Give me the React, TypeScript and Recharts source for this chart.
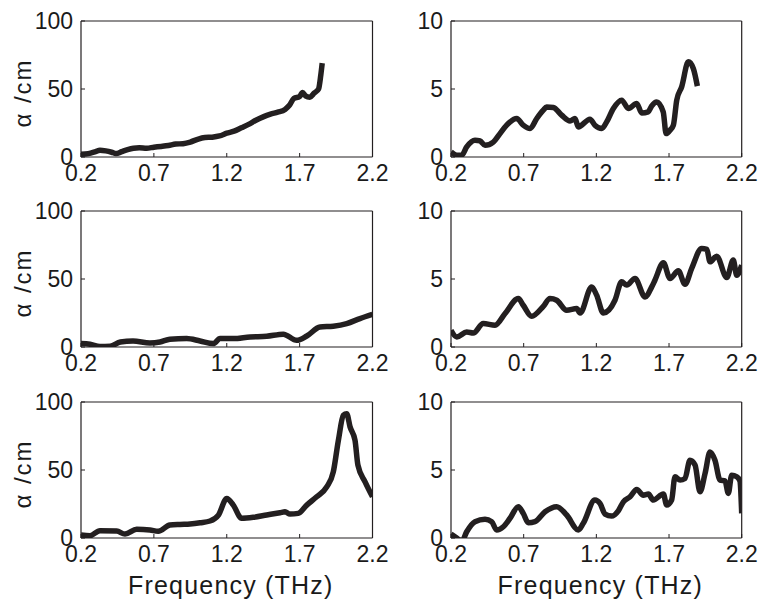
import React from 'react';
import { LineChart, Line, XAxis, YAxis, Label } from 'recharts';

const FREQ_TICKS = [0.2, 0.7, 1.2, 1.7, 2.2];
const ALPHA_TICKS_LEFT = [0, 50, 100];
const ALPHA_TICKS_RIGHT = [0, 5, 10];

const p1Freq = [0.2, 0.25, 0.3, 0.33, 0.37, 0.41, 0.44, 0.48, 0.52, 0.56, 0.6, 0.65, 0.7, 0.75, 0.8, 0.85, 0.9, 0.95, 1.0, 1.05, 1.1, 1.15, 1.2, 1.25, 1.3, 1.35, 1.4, 1.45, 1.5, 1.55, 1.6, 1.63, 1.66, 1.7, 1.72, 1.74, 1.77, 1.8, 1.83, 1.845, 1.855];
const p1Alpha = [2, 2.5, 4, 5, 4.5, 3.5, 2.5, 4, 5.5, 6.5, 6.8, 6.5, 7.2, 7.8, 8.5, 9.5, 9.8, 11, 13, 14.3, 14.6, 15.5, 17.5, 19, 21.5, 24, 27, 29.5, 31.5, 33, 35, 38, 43, 44.5, 47.5, 45, 44, 47, 50, 60, 69];

const p2Freq = [0.2, 0.24, 0.274, 0.308, 0.365, 0.4, 0.434, 0.491, 0.537, 0.583, 0.652, 0.697, 0.744, 0.79, 0.835, 0.858, 0.904, 0.962, 1.019, 1.053, 1.076, 1.156, 1.19, 1.237, 1.271, 1.317, 1.374, 1.42, 1.478, 1.512, 1.557, 1.58, 1.615, 1.66, 1.68, 1.707, 1.73, 1.753, 1.787, 1.833, 1.867, 1.895];
const p2Alpha = [0.37, 0.13, 0.13, 0.74, 1.23, 1.18, 0.86, 1.1, 1.72, 2.34, 2.83, 2.34, 2.09, 2.83, 3.44, 3.68, 3.64, 3.07, 2.65, 2.83, 2.21, 2.78, 2.34, 2.09, 2.58, 3.57, 4.18, 3.57, 3.94, 3.24, 3.32, 3.74, 4.05, 3.32, 1.72, 1.97, 2.34, 4.18, 5.16, 7.0, 6.51, 5.21];

const p3Freq = [0.2, 0.262, 0.33, 0.4, 0.47, 0.557, 0.673, 0.742, 0.81, 0.925, 1.017, 1.108, 1.154, 1.245, 1.36, 1.474, 1.588, 1.68, 1.749, 1.84, 1.931, 2.023, 2.114, 2.2];
const p3Alpha = [2.5, 2, 0.3, 0.5, 3.7, 4.4, 3, 3.7, 5.7, 6.2, 4.4, 2.5, 6.2, 6.2, 7.4, 7.9, 9.4, 4.9, 8.1, 14.7, 15.3, 17.2, 20.9, 24];

const p4Freq = [0.2, 0.24, 0.308, 0.353, 0.422, 0.503, 0.572, 0.663, 0.697, 0.755, 0.835, 0.881, 0.927, 0.996, 1.065, 1.088, 1.168, 1.202, 1.248, 1.328, 1.374, 1.409, 1.466, 1.535, 1.581, 1.603, 1.661, 1.707, 1.764, 1.81, 1.856, 1.925, 1.96, 1.982, 2.028, 2.097, 2.142, 2.166, 2.2];
const p4Alpha = [1.23, 0.74, 1.1, 1.03, 1.72, 1.6, 2.46, 3.57, 3.07, 2.26, 2.99, 3.57, 3.44, 2.7, 2.83, 2.5, 4.42, 3.81, 2.5, 3.44, 4.79, 4.55, 5.04, 3.68, 4.42, 4.91, 6.19, 5.04, 5.6, 4.62, 5.78, 7.25, 7.18, 6.26, 6.68, 5.11, 6.39, 5.28, 6.02];

const p5Freq = [0.2, 0.262, 0.33, 0.445, 0.502, 0.582, 0.673, 0.73, 0.81, 0.879, 0.948, 1.017, 1.085, 1.143, 1.2, 1.245, 1.302, 1.382, 1.474, 1.565, 1.6, 1.634, 1.69, 1.749, 1.817, 1.886, 1.931, 1.966, 2.0, 2.023, 2.046, 2.08, 2.1, 2.149, 2.2];
const p5Alpha = [2.2, 1.7, 5.4, 5.1, 2.9, 6.4, 5.9, 4.9, 9.5, 10, 10.3, 11.2, 12.5, 16.9, 29.1, 24.2, 14.5, 15.2, 16.9, 18.6, 19.3, 17.6, 18.1, 24.2, 30.3, 37.6, 48.6, 71.9, 90.2, 91.4, 81.7, 71.9, 53.6, 41.3, 30.3];

const p6Freq = [0.2, 0.24, 0.274, 0.308, 0.365, 0.434, 0.48, 0.514, 0.56, 0.606, 0.663, 0.697, 0.732, 0.778, 0.847, 0.927, 0.996, 1.076, 1.11, 1.19, 1.225, 1.26, 1.305, 1.351, 1.386, 1.432, 1.478, 1.523, 1.558, 1.592, 1.661, 1.684, 1.718, 1.741, 1.776, 1.81, 1.844, 1.879, 1.913, 1.948, 1.982, 2.016, 2.051, 2.085, 2.108, 2.131, 2.166, 2.188, 2.2];
const p6Alpha = [0.29, 0, -0.25, 0.46, 1.2, 1.37, 1.2, 0.59, 0.83, 1.45, 2.3, 1.81, 1.12, 1.2, 1.93, 2.3, 1.69, 0.59, 1.08, 2.79, 2.54, 1.76, 1.61, 2.0, 2.66, 3.03, 3.57, 3.15, 3.23, 2.79, 3.23, 2.42, 2.79, 4.5, 4.26, 4.38, 5.72, 5.36, 3.4, 4.75, 6.33, 5.72, 4.26, 4.2, 3.28, 4.62, 4.5, 4.2, 1.81];

const toRows = (freq: number[], alpha: number[]) => freq.map((f, i) => ({ f, a: alpha[i] }));

const INK = '#231f20';
const FONT = '"Liberation Sans", Arial, Helvetica, sans-serif';
const tickStyle = { fontFamily: FONT, fontSize: 23, fill: '#1a1a1a' };

const ROW_TOPS = [21, 211, 402];
const PLOT_H = 136;
const MT = 15; // margin above the 1px top axis band

type PanelProps = {
  left: number;
  top: number;
  width: number;
  height: number;
  yAxisWidth: number;
  plotWidth: number;
  xAxisHeight: number;
  freq: number[];
  alpha: number[];
  yMax: number;
  yTicks: number[];
  showYLabel: boolean;
  showXLabel: boolean;
};

const YLabel = () => {
  const cx = 31;
  const cy = MT + 1 + PLOT_H / 2 + 4;
  return (
    <text
      x={cx}
      y={cy}
      transform={`rotate(-90, ${cx}, ${cy})`}
      textAnchor="middle"
      fontFamily={FONT}
      fontSize={24}
      letterSpacing={2}
      fill="#1a1a1a"
    >
      α /cm
    </text>
  );
};

const makeXLabel = (cxRel: number) => () => {
  const cy = MT + 1 + PLOT_H + 56;
  return (
    <text x={cxRel} y={cy} textAnchor="middle" fontFamily={FONT} fontSize={25} letterSpacing={1.2} fill="#1a1a1a">
      Frequency (THz)
    </text>
  );
};

const Panel = (p: PanelProps) => {
  const data = toRows(p.freq, p.alpha);
  const rightAxisW = 1;
  const XLabel = makeXLabel(p.yAxisWidth + p.plotWidth / 2 + 4);
  return (
    <div style={{ position: 'absolute', left: p.left, top: p.top }}>
      <LineChart
        width={p.width}
        height={p.height}
        data={data}
        margin={{ top: MT, right: p.width - p.yAxisWidth - p.plotWidth - rightAxisW, bottom: 0, left: 0 }}
      >
        <XAxis
          dataKey="f"
          type="number"
          domain={[0.2, 2.2]}
          ticks={FREQ_TICKS}
          interval={0}
          allowDataOverflow
          height={p.xAxisHeight}
          tickSize={-4}
          tickMargin={12}
          tick={tickStyle}
          stroke={INK}
          axisLine={{ stroke: INK, strokeWidth: 1.2 }}
          tickLine={{ stroke: INK }}
        >
          {p.showXLabel ? <Label content={XLabel} /> : null}
        </XAxis>
        <XAxis
          xAxisId="top"
          orientation="top"
          dataKey="f"
          type="number"
          domain={[0.2, 2.2]}
          ticks={FREQ_TICKS}
          interval={0}
          height={1}
          tickSize={-4}
          tick={false}
          axisLine={{ stroke: INK, strokeWidth: 1.2 }}
          tickLine={{ stroke: INK }}
        />
        <YAxis
          type="number"
          domain={[0, p.yMax]}
          ticks={p.yTicks}
          interval={0}
          allowDataOverflow
          width={p.yAxisWidth}
          tickSize={-4}
          tickMargin={12}
          tick={tickStyle}
          axisLine={{ stroke: INK, strokeWidth: 1.2 }}
          tickLine={{ stroke: INK }}
        >
          {p.showYLabel ? <Label content={YLabel} /> : null}
        </YAxis>
        <YAxis
          yAxisId="right"
          orientation="right"
          type="number"
          domain={[0, p.yMax]}
          ticks={p.yTicks}
          interval={0}
          width={rightAxisW}
          tickSize={-4}
          tick={false}
          axisLine={{ stroke: INK, strokeWidth: 1.2 }}
          tickLine={{ stroke: INK }}
        />
        <Line
          type="monotone"
          dataKey="a"
          stroke={INK}
          strokeWidth={5.5}
          dot={false}
          activeDot={false}
          isAnimationActive={false}
        />
      </LineChart>
    </div>
  );
};

export default function App() {
  const rows = [
    { l: [p1Freq, p1Alpha], r: [p2Freq, p2Alpha] },
    { l: [p3Freq, p3Alpha], r: [p4Freq, p4Alpha] },
    { l: [p5Freq, p5Alpha], r: [p6Freq, p6Alpha] },
  ];
  return (
    <div style={{ position: 'absolute', left: 0, top: 0, width: 761, height: 599, background: '#fff', overflow: 'hidden' }}>
      {rows.map((row, i) => {
        const last = i === 2;
        const xh = last ? 61 : 40;
        const top = ROW_TOPS[i] - MT - 1;
        const h = MT + 1 + PLOT_H + xh;
        return (
          <React.Fragment key={i}>
            <Panel
              left={0}
              top={top}
              width={400}
              height={h}
              yAxisWidth={81}
              plotWidth={291.5}
              xAxisHeight={xh}
              freq={row.l[0]}
              alpha={row.l[1]}
              yMax={100}
              yTicks={ALPHA_TICKS_LEFT}
              showYLabel
              showXLabel={last}
            />
            <Panel
              left={380}
              top={top}
              width={381}
              height={h}
              yAxisWidth={71}
              plotWidth={290.7}
              xAxisHeight={xh}
              freq={row.r[0]}
              alpha={row.r[1]}
              yMax={10}
              yTicks={ALPHA_TICKS_RIGHT}
              showYLabel={false}
              showXLabel={last}
            />
          </React.Fragment>
        );
      })}
    </div>
  );
}
